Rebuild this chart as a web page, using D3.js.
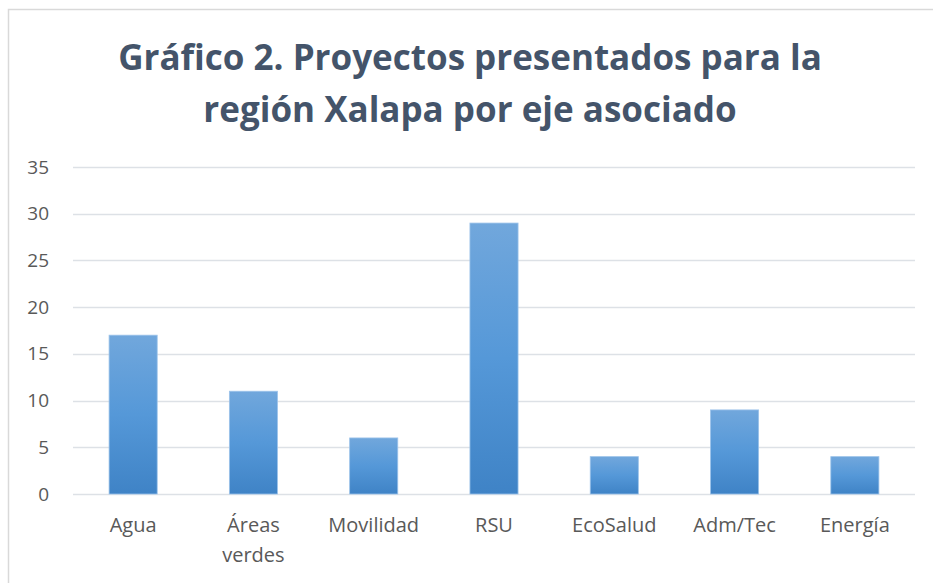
<!DOCTYPE html>
<html>
<head>
<meta charset="utf-8">
<script src="https://cdn.jsdelivr.net/npm/d3@7"></script>
<style>
  html, body { margin: 0; padding: 0; background: #fff; }
  svg { display: block; }
</style>
</head>
<body>
<div id="chart"></div>
<script>
// Gráfico 2 - bar chart, projects per axis for Xalapa region

const CATEGORIES = ["Agua", "Áreas verdes", "Movilidad", "RSU", "EcoSalud", "Adm/Tec", "Energía"];
const VALUES     = [17, 11, 6, 29, 4, 9, 4];
const Y_TICKS    = [0, 5, 10, 15, 20, 25, 30, 35];
const TITLE      = ["Gráfico 2. Proyectos presentados para la", "región Xalapa por eje asociado"];

const W = 933, H = 583;
const m = { top: 167, right: 18, bottom: 89, left: 73 };
const iw = W - m.left - m.right;
const ih = H - m.top - m.bottom;

const FONT = "'Open Sans', Lato, sans-serif";

const svg = d3.select("#chart")
  .append("svg")
    .attr("width", W)
    .attr("height", H);

// bar gradient
const grad = svg.append("defs").append("linearGradient")
  .attr("id", "barGrad")
  .attr("x1", 0).attr("y1", 0).attr("x2", 0).attr("y2", 1);
grad.append("stop").attr("offset", "0%").attr("stop-color", "#71a7dc");
grad.append("stop").attr("offset", "50%").attr("stop-color", "#5598d8");
grad.append("stop").attr("offset", "100%").attr("stop-color", "#3f83c6");

// chart frame (runs past the right/bottom edge)
svg.append("rect")
  .attr("x", 8.5).attr("y", 9.5)
  .attr("width", 1000).attr("height", 1000)
  .attr("fill", "none")
  .attr("stroke", "#d9d9d9")
  .attr("stroke-width", 1.5);

// title
svg.append("text")
  .attr("x", 470)
  .attr("text-anchor", "middle")
  .attr("fill", "#44546a")
  .attr("font-family", FONT)
  .attr("font-weight", "700")
  .attr("font-size", "35px")
  .selectAll("tspan")
  .data(TITLE)
  .join("tspan")
    .attr("x", 470)
    .attr("y", (d, i) => 70 + i * 52)
    .text(d => d);

const x = d3.scaleBand()
  .domain(CATEGORIES)
  .range([0, iw])
  .paddingInner(0.6)
  .paddingOuter(0.3);

const y = d3.scaleLinear().domain([0, 35]).range([ih, 0]);

const g = svg.append("g").attr("transform", `translate(${m.left},${m.top})`);

// grid
g.selectAll(".grid")
  .data(Y_TICKS)
  .join("line")
    .attr("x1", 0).attr("x2", iw)
    .attr("y1", d => Math.round(y(d)) + 0.5)
    .attr("y2", d => Math.round(y(d)) + 0.5)
    .attr("stroke", "#dde1e6")
    .attr("stroke-width", 1.3);

// bars
g.selectAll(".bar")
  .data(VALUES)
  .join("rect")
    .attr("x", (d, i) => x(CATEGORIES[i]))
    .attr("y", d => y(d))
    .attr("width", x.bandwidth())
    .attr("height", d => ih - y(d))
    .attr("fill", "url(#barGrad)")
    .attr("stroke", "#9cc3ea")
    .attr("stroke-width", 0.8);

// y axis labels
const yAxis = g.append("g")
  .call(d3.axisLeft(y).tickValues(Y_TICKS).tickSize(0).tickPadding(24));
yAxis.select(".domain").remove();
yAxis.selectAll("text")
  .attr("fill", "#595959")
  .attr("font-size", "19px")
  .attr("font-family", FONT);

// x axis labels
const xAxis = g.append("g")
  .attr("transform", `translate(0,${ih})`)
  .call(d3.axisBottom(x).tickSize(0).tickPadding(24));
xAxis.select(".domain").remove();
xAxis.selectAll("text")
  .attr("fill", "#595959")
  .attr("font-size", "20px")
  .attr("font-family", FONT)
  .each(function(d) {
    const words = d.split(" ");
    if (words.length < 2) return;
    const t = d3.select(this).text(null);
    words.forEach((w, i) => {
      t.append("tspan").attr("x", 0).attr("dy", i === 0 ? "0.71em" : "1.5em").text(w);
    });
    t.attr("dy", null);
  });
</script>
</body>
</html>
